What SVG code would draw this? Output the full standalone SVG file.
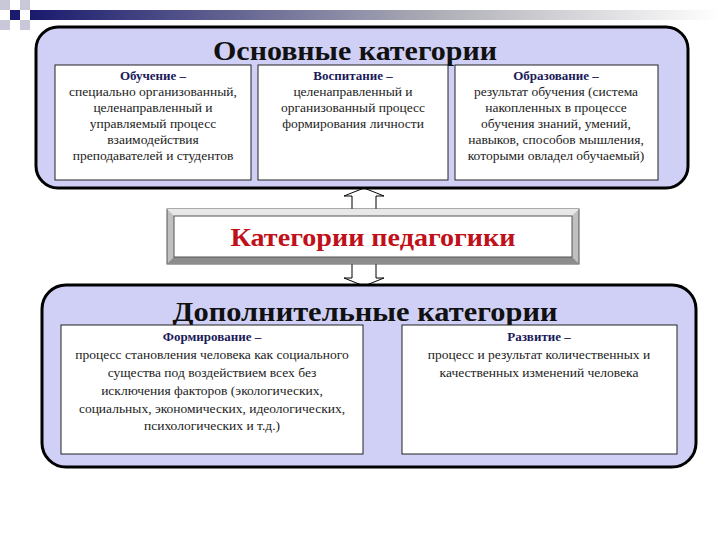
<svg xmlns="http://www.w3.org/2000/svg" width="720" height="540" viewBox="0 0 720 540">
<defs>
<linearGradient id="bar" x1="0" x2="1" y1="0" y2="0"><stop offset="0" stop-color="#1a1a6e"/><stop offset="0.6" stop-color="#b0b0b8"/><stop offset="1" stop-color="#ffffff"/></linearGradient>
</defs>
<style>
.big{fill:#d0d0f6;stroke:#000;stroke-width:3}
.card{fill:#fff;stroke:#222;stroke-width:1}
.t{font-family:"Liberation Serif",serif;font-size:13.5px;fill:#222;text-anchor:middle}
.h{font-family:"Liberation Serif",serif;font-size:13px;font-weight:bold;fill:#1a1a5a;text-anchor:middle}
.title{font-family:"Liberation Serif",serif;font-size:28px;font-weight:bold;fill:#111;text-anchor:middle}
.arr{fill:#fff;stroke:#000;stroke-width:1}
</style>
<g id="decor">
<rect x="30" y="10" width="690" height="10" fill="url(#bar)"/>
<rect x="0" y="0" width="10" height="10" fill="#c8c8d8"/>
<rect x="20" y="0" width="10" height="10" fill="#c8c8d8"/>
<rect x="10" y="10" width="10" height="10" fill="#1a1a6e"/>
<rect x="0" y="20" width="10" height="10" fill="#c8c8d8"/>
<rect x="20" y="20" width="10" height="10" fill="#c8c8d8"/>
</g>
<g id="connectors">
<path class="arr" d="M352,209 V196 H344 L364,188 L384,196 H376 V209"/>
<path class="arr" d="M352,264 V278 H344 L364,286 L384,278 H376 V264"/>
</g>
<g id="basic">
<rect class="big" x="36" y="27" width="652" height="161" rx="22"/>
<text class="title" x="355" y="60" textLength="284" lengthAdjust="spacingAndGlyphs">Основные категории</text>
</g>
<g id="obuchenie">
<rect class="card" x="55" y="65" width="196" height="115"/>
<text class="h" x="153" y="80">Обучение –</text>
<text class="t" x="153" y="96">специально организованный,</text>
<text class="t" x="153" y="112">целенаправленный и</text>
<text class="t" x="153" y="128">управляемый процесс</text>
<text class="t" x="153" y="144">взаимодействия</text>
<text class="t" x="153" y="160">преподавателей и студентов</text>
</g>
<g id="vospitanie">
<rect class="card" x="258" y="65" width="190" height="115"/>
<text class="h" x="353" y="80">Воспитание –</text>
<text class="t" x="353" y="96">целенаправленный и</text>
<text class="t" x="353" y="112">организованный процесс</text>
<text class="t" x="353" y="128">формирования личности</text>
</g>
<g id="obrazovanie">
<rect class="card" x="455" y="65" width="203" height="115"/>
<text class="h" x="556" y="80">Образование –</text>
<text class="t" x="556" y="96">результат обучения (система</text>
<text class="t" x="556" y="112">накопленных в процессе</text>
<text class="t" x="556" y="128">обучения знаний, умений,</text>
<text class="t" x="556" y="144">навыков, способов мышления,</text>
<text class="t" x="556" y="160">которыми овладел обучаемый)</text>
</g>
<g id="center">
<rect x="167" y="209" width="412" height="55" fill="#c0c0c0" stroke="#555"/>
<polygon points="167,209 579,209 572,216 174,216" fill="#e8e8e8"/>
<polygon points="167,264 579,264 572,257 174,257" fill="#8c8c8c"/>
<rect x="174" y="216" width="398" height="41" fill="#fff" stroke="#555"/>
<text x="373" y="246" font-family="Liberation Serif,serif" font-size="25" font-weight="bold" fill="#c0101a" text-anchor="middle" textLength="285" lengthAdjust="spacingAndGlyphs">Категории педагогики</text>
</g>
<g id="extra">
<rect class="big" x="42" y="285" width="654" height="182" rx="24"/>
<text class="title" x="365" y="321" textLength="385" lengthAdjust="spacingAndGlyphs">Дополнительные категории</text>
</g>
<g id="formirovanie">
<rect class="card" x="61" y="325" width="302" height="129"/>
<text class="h" x="212" y="341">Формирование –</text>
<text class="t" x="212" y="359">процесс становления человека как социального</text>
<text class="t" x="212" y="377">существа под воздействием всех без</text>
<text class="t" x="212" y="395">исключения факторов (экологических,</text>
<text class="t" x="212" y="413">социальных, экономических, идеологических,</text>
<text class="t" x="212" y="430">психологических и т.д.)</text>
</g>
<g id="razvitie">
<rect class="card" x="402" y="325" width="275" height="129"/>
<text class="h" x="539" y="341">Развитие –</text>
<text class="t" x="539" y="359">процесс и результат количественных и</text>
<text class="t" x="539" y="377">качественных изменений человека</text>
</g>
</svg>
